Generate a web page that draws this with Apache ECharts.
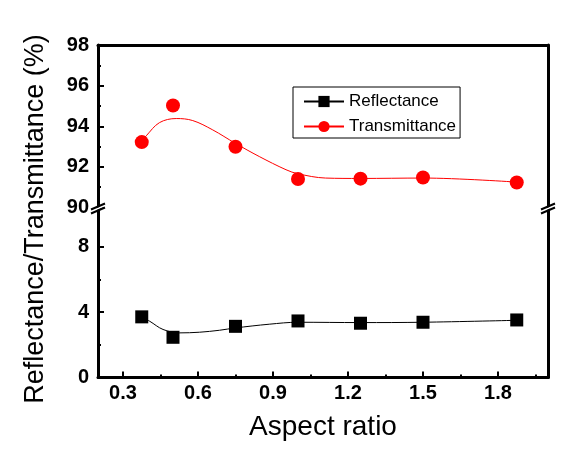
<!DOCTYPE html>
<html>
<head>
<meta charset="utf-8">
<script src="https://cdn.jsdelivr.net/npm/echarts@6/dist/echarts.min.js"></script>
<style>
html,body{margin:0;padding:0;background:#fff;}
#c{width:575px;height:454px;}
</style>
</head>
<body>
<div id="c"></div>
<script>
// ---- data ----
var aspectRatio = [0.375, 0.5, 0.75, 1.0, 1.25, 1.5, 1.875];
var reflectance = [3.71, 2.46, 3.13, 3.46, 3.32, 3.38, 3.52];
var transmittance = [93.22, 95.02, 92.99, 91.40, 91.42, 91.48, 91.23];
// fitted curves as drawn in the reference
var reflCurveX = [0.375, 0.407, 0.46, 0.526, 0.606, 0.686, 0.748, 0.885, 1.0, 1.25, 1.5, 1.875];
var reflCurveY = [3.70, 3.44, 2.94, 2.73, 2.77, 2.89, 3.03, 3.26, 3.38, 3.36, 3.38, 3.50];
var transCurveX = [0.375, 0.393, 0.446, 0.513, 0.579, 0.659, 0.748, 0.845, 0.952, 1.0, 1.11, 1.25, 1.5, 1.875];
var transCurveY = [93.25, 93.53, 94.18, 94.38, 94.28, 93.82, 93.17, 92.51, 91.86, 91.66, 91.45, 91.43, 91.45, 91.25];
var xTicks = [0.3, 0.6, 0.9, 1.2, 1.5, 1.8];
var xMinorTicks = [0.45, 0.75, 1.05, 1.35, 1.65, 1.95];
var lowerYTicks = [0, 4, 8];
var lowerYMinorTicks = [2, 6];
var seriesNames = ['Reflectance', 'Transmittance'];

function zip(a, b) { return a.map(function (v, i) { return [v, b[i]]; }); }

var FONT = 'Liberation Sans, Arial, sans-serif';
var lbl = { color: '#000', fontFamily: FONT, fontWeight: 'bold', fontSize: 20 };
var axLine = { show: true, lineStyle: { color: '#000', width: 3 } };
var noLine = { show: false };

var chart = echarts.init(document.getElementById('c'), null, { renderer: 'canvas' });
var option = {
  animation: false,
  backgroundColor: '#fff',
  grid: [
    { left: 98, right: 27, top: 45, height: 162.5 },
    { left: 98, right: 27, top: 207.5, bottom: 76.5 }
  ],
  legend: {
    data: seriesNames,
    orient: 'vertical',
    left: 293, top: 87,
    padding: [6, 4, 3, 10],
    itemWidth: 40, itemHeight: 14, itemGap: 8,
    borderColor: '#000', borderWidth: 1,
    textStyle: { color: '#000', fontFamily: FONT, fontSize: 17 }
  },
  xAxis: [
    { gridIndex: 0, type: 'value', position: 'top', min: 0.2, max: 2.0,
      axisLine: axLine, axisTick: { show: false }, axisLabel: { show: false }, splitLine: { show: false } },
    { gridIndex: 1, type: 'value', position: 'bottom', min: 0.2, max: 2.0,
      axisLine: axLine,
      axisTick: { show: true, inside: true, length: 6, lineStyle: { color: '#000', width: 2 }, customValues: xTicks },
      axisLabel: Object.assign({ margin: 6, customValues: xTicks, formatter: function (v) { return v.toFixed(1); } }, lbl),
      splitLine: { show: false },
      name: 'Aspect ratio', nameLocation: 'middle', nameGap: 36,
      nameTextStyle: { color: '#000', fontFamily: FONT, fontSize: 28 } },
    { gridIndex: 1, type: 'value', position: 'bottom', min: 0.2, max: 2.0,
      axisLine: noLine,
      axisTick: { show: true, inside: true, length: 3, lineStyle: { color: '#000', width: 2 }, customValues: xMinorTicks },
      axisLabel: { show: false }, splitLine: { show: false } }
  ],
  yAxis: [
    { gridIndex: 0, type: 'value', position: 'left', min: 90, max: 98, interval: 2,
      axisLine: axLine,
      axisTick: { show: true, inside: true, length: 6, lineStyle: { color: '#000', width: 2 } },
      minorTick: { show: true, splitNumber: 2, length: 3, lineStyle: { color: '#000', width: 2 } },
      axisLabel: Object.assign({ margin: 9 }, lbl),
      splitLine: { show: false }, minorSplitLine: { show: false } },
    { gridIndex: 0, type: 'value', position: 'right', min: 90, max: 98,
      axisLine: axLine, axisTick: { show: false }, axisLabel: { show: false }, splitLine: { show: false } },
    { gridIndex: 1, type: 'value', position: 'left', min: 0, max: 10.4,
      axisLine: axLine,
      axisTick: { show: true, inside: true, length: 6, lineStyle: { color: '#000', width: 2 }, customValues: lowerYTicks },
      axisLabel: Object.assign({ margin: 9, customValues: lowerYTicks }, lbl),
      splitLine: { show: false } },
    { gridIndex: 1, type: 'value', position: 'left', min: 0, max: 10.4,
      axisLine: noLine,
      axisTick: { show: true, inside: true, length: 3, lineStyle: { color: '#000', width: 2 }, customValues: lowerYMinorTicks },
      axisLabel: { show: false }, splitLine: { show: false } },
    { gridIndex: 1, type: 'value', position: 'right', min: 0, max: 10.4,
      axisLine: axLine, axisTick: { show: false }, axisLabel: { show: false }, splitLine: { show: false } }
  ],
  series: [
    { name: seriesNames[0], type: 'line', xAxisIndex: 1, yAxisIndex: 2,
      data: zip(reflCurveX, reflCurveY), smooth: 0.35, symbol: 'rect', symbolSize: 13, showSymbol: false,
      lineStyle: { color: '#000', width: 1 }, itemStyle: { color: '#000' }, z: 2 },
    { name: seriesNames[1], type: 'line', xAxisIndex: 0, yAxisIndex: 0,
      data: zip(transCurveX, transCurveY), smooth: 0.35, symbol: 'circle', symbolSize: 14, showSymbol: false,
      lineStyle: { color: '#ff0000', width: 1 }, itemStyle: { color: '#ff0000' }, z: 2 },
    { name: seriesNames[0], type: 'scatter', xAxisIndex: 1, yAxisIndex: 2,
      data: zip(aspectRatio, reflectance), symbol: 'rect', symbolSize: 13,
      itemStyle: { color: '#000', opacity: 1 }, z: 3 },
    { name: seriesNames[1], type: 'scatter', xAxisIndex: 0, yAxisIndex: 0,
      data: zip(aspectRatio, transmittance), symbol: 'circle', symbolSize: 14,
      itemStyle: { color: '#ff0000', opacity: 1 }, z: 3 }
  ],
  graphic: [
    { type: 'text', x: 36, y: 219, rotation: Math.PI / 2,
      style: { text: 'Reflectance/Transmittance (%)', fill: '#000', font: '27px ' + FONT, align: 'center', verticalAlign: 'middle' } }
  ]
};
chart.setOption(option);

// axis-break marks at the junction of the two panels
var pL = chart.convertToPixel({ xAxisIndex: 0, yAxisIndex: 0 }, [0.2, 90]);
var pR = chart.convertToPixel({ xAxisIndex: 0, yAxisIndex: 0 }, [2.0, 90]);
function breakMark(p) {
  return [
    { type: 'polygon', shape: { points: [[p[0] - 7, p[1] + 3], [p[0] + 7, p[1] - 3], [p[0] + 7, p[1] - 1], [p[0] - 7, p[1] + 5]] },
      style: { fill: '#fff' }, z: 100 },
    { type: 'line', shape: { x1: p[0] - 7, y1: p[1] + 2, x2: p[0] + 7, y2: p[1] - 4 }, style: { stroke: '#000', lineWidth: 2 }, z: 101 },
    { type: 'line', shape: { x1: p[0] - 7, y1: p[1] + 6, x2: p[0] + 7, y2: p[1] }, style: { stroke: '#000', lineWidth: 2 }, z: 101 }
  ];
}
chart.setOption({ graphic: option.graphic.concat(breakMark(pL), breakMark(pR)) });
</script>
</body>
</html>
